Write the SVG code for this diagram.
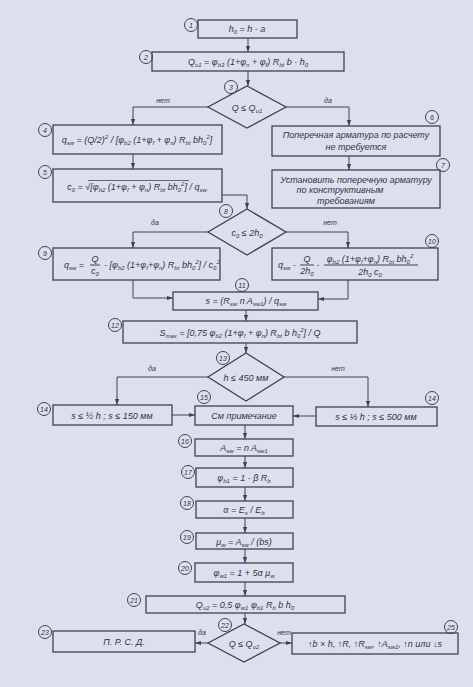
<svg xmlns="http://www.w3.org/2000/svg" width="473" height="687" viewBox="0 0 473 687">
<defs>
<marker id="ar" viewBox="0 0 10 10" refX="10" refY="5" markerWidth="7" markerHeight="6" orient="auto" markerUnits="userSpaceOnUse">
<path d="M0,1.5 L10,5 L0,8.5 Z" fill="#3c4255"/>
</marker>
<style>
.bx{fill:none;stroke:#3c4255;stroke-width:1.3}
.cn{fill:none;stroke:#3c4255;stroke-width:1;marker-end:url(#ar)}
.ln{fill:none;stroke:#3c4255;stroke-width:1}
.ov{fill:none;stroke:#2e3445;stroke-width:0.7}
.ci{fill:none;stroke:#3c4255;stroke-width:1}
text{font-family:"Liberation Sans","DejaVu Sans",sans-serif;font-style:italic;fill:#2e3445}
.t{font-size:9px;text-anchor:middle}
.n{font-size:7px;text-anchor:middle}
.l{font-size:7px;text-anchor:middle}
.sb{font-size:6px;baseline-shift:-2px}
.sp{font-size:6px;baseline-shift:4px}
</style>
</defs>
<rect width="473" height="687" fill="#dde0ec"/>

<g id="connectors">
<path class="cn" d="M248,38 V52"/>
<path class="cn" d="M248,71 V86"/>
<path class="cn" d="M208,107 H133 V125"/>
<path class="cn" d="M286,107 H349 V126"/>
<path class="cn" d="M133,154 V169"/>
<path class="cn" d="M349,156 V170"/>
<path class="cn" d="M222,195 H247 V209"/>
<path class="cn" d="M208,232 H133 V248"/>
<path class="cn" d="M286,232 H348 V248"/>
<path class="cn" d="M133,280 V298 H173"/>
<path class="cn" d="M348,280 V299 H318"/>
<path class="cn" d="M246,310 V321"/>
<path class="cn" d="M246,343 V353"/>
<path class="cn" d="M208,377 H117 V405"/>
<path class="cn" d="M284,377 H368 V407"/>
<path class="cn" d="M172,415 H195"/>
<path class="cn" d="M316,416 H293"/>
<path class="cn" d="M245,425 V439"/>
<path class="cn" d="M245,456 V468"/>
<path class="cn" d="M245,487 V501"/>
<path class="cn" d="M245,518 V533"/>
<path class="cn" d="M245,549 V563"/>
<path class="cn" d="M245,582 V596"/>
<path class="cn" d="M245,613 V624"/>
<path class="cn" d="M208,643 H195"/>
<path class="cn" d="M280,643 H292"/>
<text class="l" x="163" y="103">нет</text>
<text class="l" x="328" y="103">да</text>
<text class="l" x="155" y="225">да</text>
<text class="l" x="330" y="225">нет</text>
<text class="l" x="152" y="371">да</text>
<text class="l" x="338" y="371">нет</text>
<text class="l" x="202" y="635">да</text>
<text class="l" x="284" y="635">нет</text>
</g>

<g id="n1">
<rect class="bx" x="198" y="20" width="99" height="18"/>
<circle class="ci" cx="191" cy="25" r="6.5"/><text class="n" x="191" y="27.5">1</text>
<text class="t" x="247" y="32">h<tspan class="sb">0</tspan> = h - a</text>
</g>

<g id="n2">
<rect class="bx" x="152" y="52" width="192" height="19"/>
<circle class="ci" cx="146" cy="57" r="6.5"/><text class="n" x="146" y="59.5">2</text>
<text class="t" x="248" y="65">Q<tspan class="sb">u1</tspan> = φ<tspan class="sb">b3</tspan> (1+φ<tspan class="sb">n</tspan> + φ<tspan class="sb">f</tspan>) R<tspan class="sb">bt</tspan> b · h<tspan class="sb">0</tspan></text>
</g>

<g id="n3">
<polygon class="bx" points="247,86 286,107 247,128 208,107"/>
<circle class="ci" cx="231" cy="87" r="6.5"/><text class="n" x="231" y="89.5">3</text>
<text class="t" x="247" y="111">Q ≤ Q<tspan class="sb">u1</tspan></text>
</g>

<g id="n4">
<rect class="bx" x="53" y="125" width="169" height="29"/>
<circle class="ci" cx="45" cy="130" r="6.5"/><text class="n" x="45" y="132.5">4</text>
<text class="t" x="137" y="143">q<tspan class="sb">sw</tspan> = (Q/2)<tspan class="sp">2</tspan> / [φ<tspan class="sb">b2</tspan> (1+φ<tspan class="sb">f</tspan> + φ<tspan class="sb">n</tspan>) R<tspan class="sb">bt</tspan> bh<tspan class="sb">0</tspan><tspan class="sp">2</tspan>]</text>
</g>

<g id="n5">
<rect class="bx" x="53" y="169" width="169" height="33"/>
<circle class="ci" cx="45" cy="172" r="6.5"/><text class="n" x="45" y="174.5">5</text>
<path class="ov" d="M88,180.5 H189"/>
<text class="t" x="137" y="190">c<tspan class="sb">0</tspan> = √[φ<tspan class="sb">b2</tspan> (1+φ<tspan class="sb">f</tspan> + φ<tspan class="sb">n</tspan>) R<tspan class="sb">bt</tspan> bh<tspan class="sb">0</tspan><tspan class="sp">2</tspan>] / q<tspan class="sb">sw</tspan></text>
</g>

<g id="n6">
<rect class="bx" x="272" y="126" width="168" height="30"/>
<circle class="ci" cx="432" cy="117" r="6.5"/><text class="n" x="432" y="119.5">6</text>
<text class="t" x="356" y="138">Поперечная арматура по расчету</text>
<text class="t" x="356" y="150">не требуется</text>
</g>

<g id="n7">
<rect class="bx" x="272" y="170" width="168" height="38"/>
<circle class="ci" cx="443" cy="165" r="6.5"/><text class="n" x="443" y="167.5">7</text>
<text class="t" x="356" y="183">Установить поперечную арматуру</text>
<text class="t" x="340" y="193">по конструктивным</text>
<text class="t" x="346" y="204">требованиям</text>
</g>

<g id="n8">
<polygon class="bx" points="247,209 286,232 247,255 208,232"/>
<circle class="ci" cx="226" cy="211" r="6.5"/><text class="n" x="226" y="213.5">8</text>
<text class="t" x="247" y="236">c<tspan class="sb">0</tspan> ≤ 2h<tspan class="sb">0</tspan></text>
</g>

<g id="n9">
<rect class="bx" x="53" y="248" width="167" height="32"/>
<circle class="ci" cx="45" cy="253" r="6.5"/><text class="n" x="45" y="255.5">9</text>
<text class="t" x="64" y="268" style="text-anchor:start">q<tspan class="sb">sw</tspan> =</text>
<text class="t" x="95" y="262">Q</text>
<path class="ln" d="M90,265 H100"/>
<text class="t" x="95" y="274">c<tspan class="sb">0</tspan></text>
<text class="t" x="104" y="268" style="text-anchor:start">- [φ<tspan class="sb">b2</tspan> (1+φ<tspan class="sb">f</tspan>+φ<tspan class="sb">n</tspan>) R<tspan class="sb">bt</tspan> bh<tspan class="sb">0</tspan><tspan class="sp">2</tspan>] / c<tspan class="sb">0</tspan><tspan class="sp">2</tspan></text>
</g>

<g id="n10">
<rect class="bx" x="272" y="248" width="166" height="32"/>
<circle class="ci" cx="432" cy="241" r="6.5"/><text class="n" x="432" y="243.5">10</text>
<text class="t" x="278" y="268" style="text-anchor:start">q<tspan class="sb">sw</tspan> -</text>
<text class="t" x="307" y="262">Q</text>
<path class="ln" d="M300,265 H314"/>
<text class="t" x="307" y="274">2h<tspan class="sb">0</tspan></text>
<text class="t" x="318" y="268">-</text>
<text class="t" x="370" y="262">φ<tspan class="sb">b2</tspan> (1+φ<tspan class="sb">f</tspan>+φ<tspan class="sb">n</tspan>) R<tspan class="sb">bt</tspan> bh<tspan class="sb">0</tspan><tspan class="sp">2</tspan></text>
<path class="ln" d="M324,265 H418"/>
<text class="t" x="370" y="275">2h<tspan class="sb">0</tspan> c<tspan class="sb">0</tspan></text>
</g>

<g id="n11">
<rect class="bx" x="173" y="292" width="145" height="18"/>
<circle class="ci" cx="242" cy="285" r="6.5"/><text class="n" x="242" y="287.5">11</text>
<text class="t" x="246" y="304">s = (R<tspan class="sb">sw</tspan> n A<tspan class="sb">sw1</tspan>) / q<tspan class="sb">sw</tspan></text>
</g>

<g id="n12">
<rect class="bx" x="123" y="321" width="234" height="22"/>
<circle class="ci" cx="115" cy="325" r="6.5"/><text class="n" x="115" y="327.5">12</text>
<text class="t" x="240" y="336">S<tspan class="sb">max</tspan> = [0,75 φ<tspan class="sb">b2</tspan> (1+φ<tspan class="sb">f</tspan> + φ<tspan class="sb">n</tspan>) R<tspan class="sb">bt</tspan> b h<tspan class="sb">0</tspan><tspan class="sp">2</tspan>] / Q</text>
</g>

<g id="n13">
<polygon class="bx" points="246,353 284,377 246,401 208,377"/>
<circle class="ci" cx="223" cy="358" r="6.5"/><text class="n" x="223" y="360.5">13</text>
<text class="t" x="246" y="381">h ≤ 450 мм</text>
</g>

<g id="n14a">
<rect class="bx" x="53" y="405" width="119" height="20"/>
<circle class="ci" cx="44" cy="409" r="6.5"/><text class="n" x="44" y="411.5">14</text>
<text class="t" x="112" y="419">s ≤ ½ h ;  s ≤ 150 мм</text>
</g>

<g id="n14b">
<rect class="bx" x="316" y="407" width="121" height="19"/>
<circle class="ci" cx="432" cy="398" r="6.5"/><text class="n" x="432" y="400.5">14</text>
<text class="t" x="376" y="420">s ≤ ⅓ h ;  s ≤ 500 мм</text>
</g>

<g id="n15">
<rect class="bx" x="195" y="406" width="98" height="19"/>
<circle class="ci" cx="204" cy="397" r="6.5"/><text class="n" x="204" y="399.5">15</text>
<text class="t" x="244" y="419">См  примечание</text>
</g>

<g id="n16">
<rect class="bx" x="195" y="439" width="98" height="17"/>
<circle class="ci" cx="185" cy="441" r="6.5"/><text class="n" x="185" y="443.5">16</text>
<text class="t" x="244" y="451">A<tspan class="sb">sw</tspan> = n A<tspan class="sb">sw1</tspan></text>
</g>

<g id="n17">
<rect class="bx" x="196" y="468" width="97" height="19"/>
<circle class="ci" cx="188" cy="472" r="6.5"/><text class="n" x="188" y="474.5">17</text>
<text class="t" x="244" y="481">φ<tspan class="sb">b1</tspan> = 1 - β R<tspan class="sb">b</tspan></text>
</g>

<g id="n18">
<rect class="bx" x="196" y="501" width="97" height="17"/>
<circle class="ci" cx="187" cy="503" r="6.5"/><text class="n" x="187" y="505.5">18</text>
<text class="t" x="244" y="513">α = E<tspan class="sb">s</tspan> / E<tspan class="sb">b</tspan></text>
</g>

<g id="n19">
<rect class="bx" x="196" y="533" width="97" height="16"/>
<circle class="ci" cx="187" cy="537" r="6.5"/><text class="n" x="187" y="539.5">19</text>
<text class="t" x="244" y="545">μ<tspan class="sb">w</tspan> = A<tspan class="sb">sw</tspan> / (bs)</text>
</g>

<g id="n20">
<rect class="bx" x="195" y="563" width="98" height="19"/>
<circle class="ci" cx="185" cy="568" r="6.5"/><text class="n" x="185" y="570.5">20</text>
<text class="t" x="244" y="576">φ<tspan class="sb">w1</tspan> = 1 + 5α μ<tspan class="sb">w</tspan></text>
</g>

<g id="n21">
<rect class="bx" x="146" y="596" width="199" height="17"/>
<circle class="ci" cx="134" cy="600" r="6.5"/><text class="n" x="134" y="602.5">21</text>
<text class="t" x="245" y="608">Q<tspan class="sb">u2</tspan> = 0,5 φ<tspan class="sb">w1</tspan> φ<tspan class="sb">b1</tspan> R<tspan class="sb">b</tspan> b h<tspan class="sb">0</tspan></text>
</g>

<g id="n22">
<polygon class="bx" points="244,624 280,643 244,662 208,643"/>
<circle class="ci" cx="225" cy="625" r="6.5"/><text class="n" x="225" y="627.5">22</text>
<text class="t" x="244" y="647">Q ≤ Q<tspan class="sb">u2</tspan></text>
</g>

<g id="n23">
<rect class="bx" x="53" y="631" width="142" height="21"/>
<circle class="ci" cx="45" cy="632" r="6.5"/><text class="n" x="45" y="634.5">23</text>
<text class="t" x="124" y="645">П. Р. С. Д.</text>
</g>

<g id="n25">
<rect class="bx" x="292" y="633" width="166" height="21"/>
<circle class="ci" cx="451" cy="627" r="6.5"/><text class="n" x="451" y="629.5">25</text>
<text class="t" x="375" y="647">↑b × h, ↑R, ↑R<tspan class="sb">sw</tspan>, ↑A<tspan class="sb">sw1</tspan>, ↑n или ↓s</text>
</g>
</svg>
